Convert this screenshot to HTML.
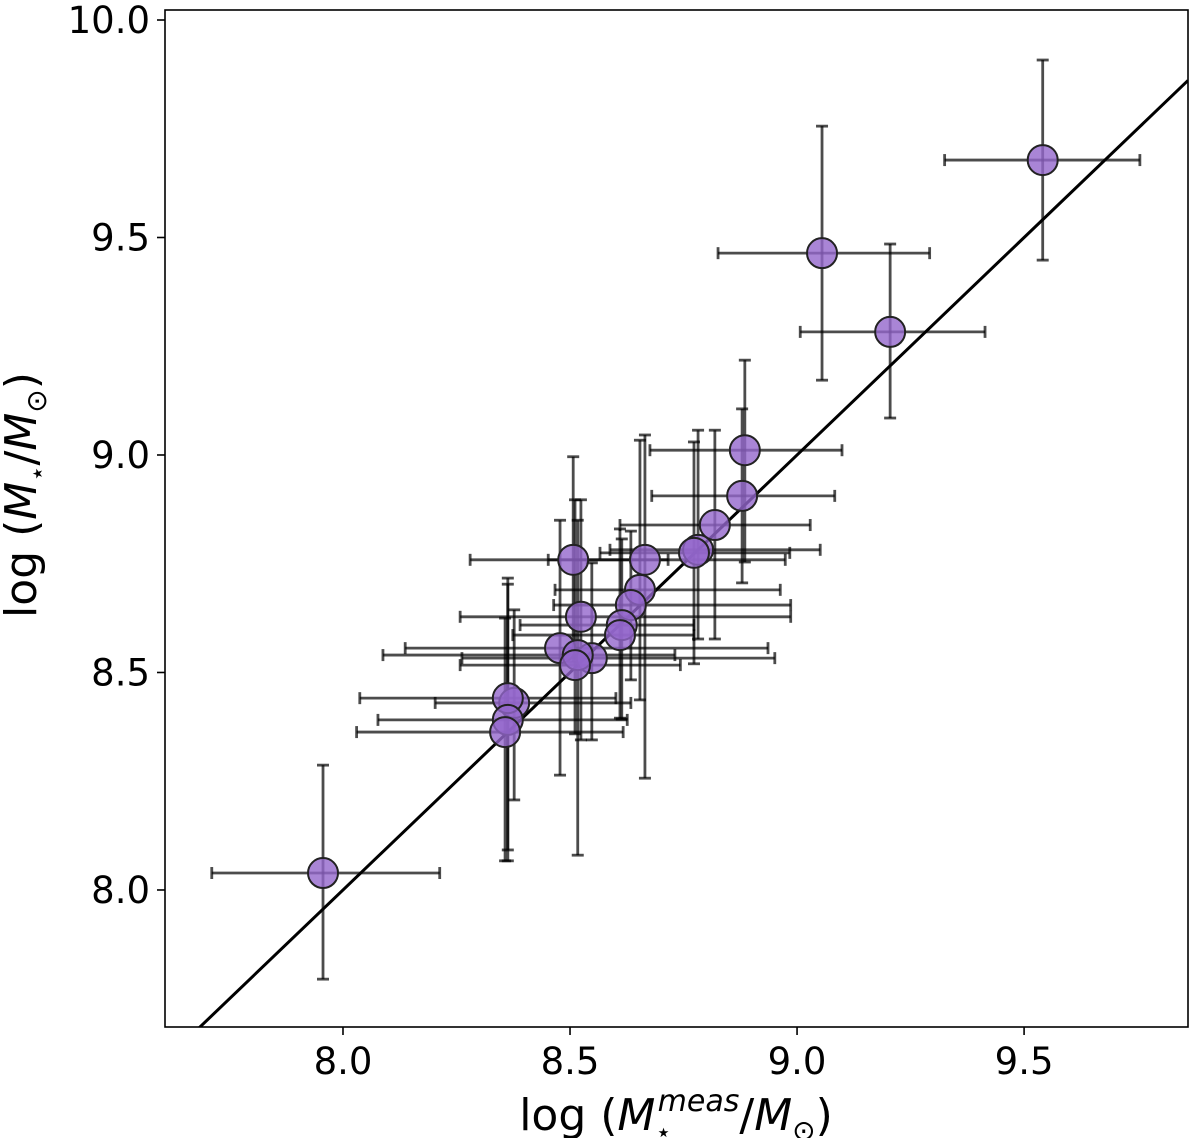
<!DOCTYPE html>
<html><head><meta charset="utf-8"><style>
html,body{margin:0;padding:0;background:#fff;width:1200px;height:1138px;overflow:hidden}
svg text{font-family:"DejaVu Sans","Liberation Sans",sans-serif;fill:#000}
</style></head><body>
<svg id="chart" width="1200" height="1138" viewBox="0 0 1200 1138" xmlns="http://www.w3.org/2000/svg">
<g id="marks"></g>
<g id="axes"></g>
</svg>
<script>
const xVals=[7.956,9.541,9.055,9.205,8.885,8.879,8.819,8.782,8.773,8.665,8.507,8.654,8.634,8.524,8.614,8.610,8.478,8.548,8.517,8.511,8.377,8.363,8.363,8.357];
const yVals=[8.039,9.678,9.464,9.283,9.011,8.906,8.839,8.782,8.775,8.759,8.759,8.690,8.655,8.628,8.609,8.586,8.556,8.533,8.540,8.517,8.430,8.441,8.391,8.363];
const xLow=[7.711,9.325,8.826,9.007,8.676,8.680,8.610,8.588,8.566,8.452,8.280,8.467,8.464,8.258,8.390,8.374,8.137,8.262,8.088,8.258,8.203,8.037,8.077,8.030];
const xHigh=[8.213,9.755,9.292,9.414,9.099,9.083,9.029,9.051,8.984,8.974,8.716,8.963,8.986,8.986,8.773,8.773,8.936,8.951,8.731,8.743,8.634,8.601,8.626,8.617];
const yLow=[7.795,9.448,9.172,9.085,8.754,8.706,8.577,8.577,8.520,8.257,8.524,8.437,8.483,8.345,8.393,8.395,8.264,8.345,8.080,8.359,8.207,8.092,8.067,8.067];
const yHigh=[8.287,9.908,9.756,9.485,9.218,9.106,9.057,9.057,9.030,9.046,8.996,9.034,8.825,8.897,8.807,8.830,8.850,8.752,8.850,8.897,8.644,8.703,8.717,8.625];
const xTicks=[8.0,8.5,9.0,9.5];
const yTicks=[8.0,8.5,9.0,9.5,10.0];

const L=165,R=1188,T=10,B=1027;
const X0=7.608,X1=9.861,Y0=7.685,Y1=10.023;
const sx=v=>L+(v-X0)/(X1-X0)*(R-L);
const sy=v=>B-(v-Y0)/(Y1-Y0)*(B-T);
const NS="http://www.w3.org/2000/svg";
function mk(tag,attrs,parent){const e=document.createElementNS(NS,tag);for(const k in attrs)e.setAttribute(k,attrs[k]);parent.appendChild(e);return e;}
const marks=document.getElementById('marks'),axes=document.getElementById('axes');

const cp=mk('clipPath',{id:'clip'},marks);
mk('rect',{x:L,y:T,width:R-L,height:B-T},cp);

for(let i=0;i<xVals.length;i++){
  const g=mk('g',{stroke:'#000','stroke-opacity':0.7,'stroke-width':2.8,fill:'none'},marks);
  
  
  const cx=sx(xVals[i]),cy=sy(yVals[i]);
  mk('line',{x1:sx(xLow[i]),x2:sx(xHigh[i]),y1:cy,y2:cy},g);
  mk('line',{x1:cx,x2:cx,y1:sy(yLow[i]),y2:sy(yHigh[i])},g);
  for(const v of [xLow[i],xHigh[i]]) mk('line',{x1:sx(v),x2:sx(v),y1:cy-6,y2:cy+6},g);
  for(const v of [yLow[i],yHigh[i]]) mk('line',{x1:cx-6,x2:cx+6,y1:sy(v),y2:sy(v)},g);
}
const ln=mk('line',{x1:sx(X0),y1:sy(X0),x2:sx(X1),y2:sy(X1),stroke:'#000','stroke-width':3,'clip-path':'url(#clip)'},marks);


for(let i=0;i<xVals.length;i++){
  const c=mk('circle',{cx:sx(xVals[i]),cy:sy(yVals[i]),r:15,fill:'#9467cc','fill-opacity':0.8,stroke:'#222','stroke-width':2},marks);
  
  
}
const fr=mk('rect',{x:L,y:T,width:R-L,height:B-T,fill:'none',stroke:'#000','stroke-width':1.6},axes);


for(const t of xTicks){
  const x=sx(t);
  mk('line',{x1:x,x2:x,y1:B,y2:B+8,stroke:'#000','stroke-width':1.6},axes);
  const tx=mk('text',{x:x,y:B+47,'text-anchor':'middle','font-size':37},axes);
  tx.textContent=t.toFixed(1);
  
  
}
for(const t of yTicks){
  const y=sy(t);
  mk('line',{x1:L-8,x2:L,y1:y,y2:y,stroke:'#000','stroke-width':1.6},axes);
  const tx=mk('text',{x:L-15,y:y+13,'text-anchor':'end','font-size':37},axes);
  tx.textContent=t.toFixed(1);
  
  
}
</script>
<svg style="position:absolute;left:0;top:0" width="1200" height="1138" xmlns="http://www.w3.org/2000/svg">
<text x="676" y="1130" text-anchor="middle" font-size="44" font-family="DejaVu Sans, Liberation Sans, sans-serif">log (<tspan font-style="italic">M</tspan><tspan font-size="26" dy="11">⋆</tspan><tspan font-size="30" font-style="italic" dy="-30" dx="-14">meas</tspan><tspan dy="19">/</tspan><tspan font-style="italic">M</tspan><tspan font-size="28" dy="10">⊙</tspan><tspan dy="-10">)</tspan></text>
<text transform="translate(36,495) rotate(-90)" text-anchor="middle" font-size="44" font-family="DejaVu Sans, Liberation Sans, sans-serif">log (<tspan font-style="italic">M</tspan><tspan font-size="26" dy="10">⋆</tspan><tspan dy="-10">/</tspan><tspan font-style="italic">M</tspan><tspan font-size="28" dy="10">⊙</tspan><tspan dy="-10">)</tspan></text>
</svg>
</body></html>
